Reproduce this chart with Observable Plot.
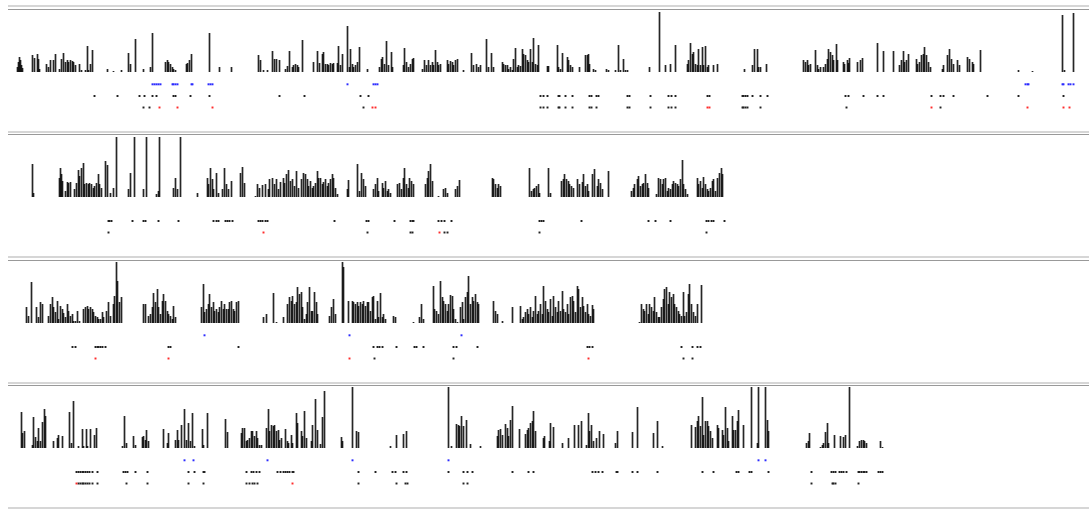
<!DOCTYPE html>
<html><head><meta charset="utf-8">
<script src="https://cdn.jsdelivr.net/npm/d3@7"></script>
<script src="https://cdn.jsdelivr.net/npm/@observablehq/plot@0.6"></script>
<style>
html,body{margin:0;padding:0;background:#fff;}
body{padding-top:5px;width:1089px;height:511px;overflow:hidden;}
.panel{margin-left:8px;width:1081px;border-top:2px solid #d6d6d6;}
.panel svg{display:block;margin-top:1.5px;border-top:1.5px solid #999;}
.endline{margin-left:8px;width:1081px;border-top:2px solid #d6d6d6;}
</style></head>
<body>
<div id="chart"></div>
<script>
// coverage bars per row: [position bin, coverage]
const bars1 = [[17,5],[18,10],[19,15],[20,12],[21,7],[22,4],[32,17],[34,14],[37,18],[38,13],[39,3],[46,8],[48,5],[50,12],[53,12],[55,18],[59,3],[61,13],[63,19],[65,10],[67,12],[68,10],[70,12],[72,11],[73,10],[75,7],[79,8],[81,2],[85,2],[87,26],[88,2],[90,8],[92,22],[107,3],[113,1],[121,2],[128,19],[130,8],[135,33],[143,3],[150,5],[152,39],[165,10],[167,12],[168,10],[170,8],[172,5],[173,3],[175,2],[186,8],[187,9],[189,12],[191,18],[209,39],[219,5],[231,5],[258,17],[260,12],[263,2],[267,2],[272,21],[274,13],[276,13],[279,12],[285,3],[287,6],[289,21],[292,5],[293,7],[295,8],[297,7],[298,5],[302,32],[313,10],[317,21],[319,9],[322,18],[323,20],[325,8],[327,8],[328,7],[330,9],[332,8],[333,9],[337,9],[338,26],[340,7],[342,18],[347,46],[349,5],[350,23],[352,8],[353,5],[355,7],[357,10],[359,25],[367,3],[379,5],[381,13],[382,15],[384,8],[386,31],[388,7],[391,20],[392,5],[403,7],[404,24],[406,10],[408,5],[410,8],[412,13],[413,14],[422,3],[424,12],[426,7],[428,12],[430,7],[432,10],[433,7],[435,22],[437,10],[438,7],[440,8],[447,12],[448,8],[450,11],[452,10],[453,7],[455,12],[457,13],[463,2],[471,19],[473,7],[476,8],[478,5],[480,7],[486,33],[488,5],[491,19],[493,5],[502,10],[503,8],[505,7],[507,7],[508,3],[510,5],[512,2],[513,13],[515,24],[517,5],[518,7],[520,6],[522,23],[523,18],[525,17],[527,12],[528,10],[530,23],[532,10],[533,34],[535,8],[537,7],[538,27],[547,6],[548,6],[557,27],[558,5],[560,3],[562,19],[567,15],[568,12],[570,7],[572,5],[579,5],[585,17],[587,17],[588,18],[589,8],[593,3],[595,2],[606,3],[608,2],[615,2],[618,27],[620,2],[623,13],[625,2],[627,2],[649,5],[659,60],[665,7],[670,8],[675,27],[687,8],[688,12],[690,29],[692,18],[693,20],[695,8],[697,7],[698,23],[700,7],[702,25],[703,7],[705,26],[707,5],[708,7],[713,7],[717,8],[744,3],[752,7],[754,23],[757,23],[758,5],[760,5],[766,8],[803,12],[805,10],[807,12],[808,7],[810,8],[815,22],[817,7],[818,3],[820,5],[823,5],[825,8],[827,13],[828,23],[830,20],[832,17],[833,12],[836,28],[837,12],[843,10],[844,8],[847,12],[848,9],[849,14],[857,10],[860,12],[862,14],[877,29],[883,21],[893,21],[899,7],[901,12],[903,21],[904,10],[906,12],[908,18],[916,13],[917,8],[919,10],[921,17],[923,18],[924,25],[926,17],[928,10],[930,5],[942,3],[943,7],[947,17],[949,23],[951,13],[953,8],[957,12],[959,7],[967,15],[969,13],[972,10],[973,8],[980,22],[1018,2],[1032,1],[1062,57],[1064,2],[1073,59]];
const bars2 = [[32,33],[33,4],[59,19],[60,29],[61,23],[62,16],[65,6],[67,15],[68,14],[70,15],[74,8],[76,14],[78,27],[79,21],[81,29],[83,34],[84,13],[86,14],[88,13],[89,14],[91,13],[93,9],[94,11],[96,14],[98,23],[99,13],[101,9],[105,36],[107,32],[110,4],[113,9],[116,60],[128,8],[130,24],[134,60],[143,8],[146,60],[156,3],[158,6],[159,60],[173,9],[175,19],[177,8],[180,60],[197,4],[207,19],[208,13],[210,29],[212,18],[213,8],[216,24],[218,4],[222,8],[224,29],[226,13],[228,8],[231,16],[240,24],[242,30],[244,14],[255,1],[257,13],[259,9],[262,12],[265,13],[268,8],[269,18],[272,19],[274,13],[276,18],[278,8],[280,15],[283,19],[284,14],[286,23],[288,27],[290,16],[292,18],[294,11],[296,26],[298,9],[301,18],[303,24],[305,23],[307,18],[308,11],[310,16],[312,9],[313,11],[315,14],[317,26],[318,19],[320,19],[322,13],[323,15],[325,18],[327,11],[328,14],[330,18],[332,23],[333,19],[335,9],[337,3],[347,8],[348,17],[357,33],[359,6],[361,24],[363,18],[365,11],[373,8],[375,13],[377,19],[378,6],[382,14],[383,9],[385,16],[387,6],[388,8],[390,4],[397,13],[399,14],[401,8],[403,19],[404,29],[406,13],[408,9],[409,19],[411,16],[413,13],[425,13],[427,19],[428,26],[430,33],[432,16],[438,1],[443,8],[445,9],[447,4],[455,8],[457,11],[459,17],[492,19],[493,18],[495,13],[497,9],[498,13],[500,11],[529,29],[531,6],[533,8],[534,9],[536,11],[538,13],[539,4],[548,29],[550,4],[561,16],[563,18],[564,23],[566,18],[568,16],[569,13],[571,11],[573,9],[577,18],[579,13],[582,15],[583,23],[585,11],[587,13],[588,6],[592,23],[594,28],[597,11],[598,18],[600,14],[602,8],[608,26],[631,6],[633,9],[634,13],[637,18],[638,21],[640,11],[642,13],[643,14],[645,23],[647,14],[648,9],[656,3],[658,19],[660,18],[662,13],[663,18],[665,19],[667,6],[668,9],[670,8],[672,13],[673,16],[675,14],[677,13],[678,11],[680,18],[682,37],[683,13],[685,8],[687,3],[697,19],[698,13],[700,16],[702,9],[703,20],[705,13],[707,8],[708,6],[710,9],[712,16],[713,18],[715,6],[717,19],[719,24],[721,29],[722,23]];
const bars3 = [[26,16],[28,7],[31,41],[36,16],[38,6],[40,21],[42,19],[48,7],[50,19],[52,26],[53,16],[55,11],[57,22],[58,4],[60,17],[62,14],[63,10],[65,6],[67,19],[68,12],[70,7],[72,9],[73,2],[75,2],[77,12],[79,2],[83,14],[85,16],[87,17],[88,14],[90,16],[92,14],[93,11],[95,7],[97,6],[98,4],[100,4],[102,11],[103,6],[106,12],[108,21],[110,7],[113,19],[114,27],[116,61],[117,42],[119,21],[121,26],[143,19],[145,19],[148,7],[150,9],[152,16],[153,30],[155,21],[157,34],[158,16],[160,9],[162,22],[163,29],[165,22],[167,12],[168,9],[170,7],[172,4],[173,17],[175,6],[201,16],[203,39],[204,11],[206,14],[208,19],[209,29],[211,16],[213,21],[214,12],[216,14],[218,11],[219,16],[221,22],[223,14],[224,19],[226,14],[228,14],[229,21],[231,22],[233,14],[234,12],[236,21],[238,22],[263,6],[266,9],[273,30],[276,1],[283,6],[287,19],[289,26],[291,22],[292,27],[294,19],[296,21],[297,36],[299,29],[301,31],[302,16],[304,4],[306,9],[307,21],[309,36],[311,12],[312,12],[314,31],[316,21],[317,9],[329,7],[331,16],[333,24],[335,9],[342,61],[343,56],[348,22],[352,22],[353,21],[355,19],[357,21],[358,17],[360,21],[362,19],[363,22],[365,17],[367,21],[368,21],[370,12],[372,26],[373,27],[375,4],[377,22],[378,6],[380,30],[382,6],[383,9],[385,4],[393,7],[395,6],[413,1],[419,6],[421,19],[423,4],[433,37],[434,14],[436,12],[438,9],[440,42],[442,26],[443,22],[445,19],[447,12],[448,19],[450,28],[452,27],[453,14],[455,4],[457,1],[460,16],[462,21],[463,4],[465,26],[467,31],[468,47],[470,19],[472,26],[473,22],[475,29],[477,21],[478,19],[493,22],[495,12],[497,9],[502,2],[512,16],[520,17],[522,4],[523,6],[525,11],[527,14],[528,9],[530,16],[532,6],[533,12],[535,27],[537,9],[538,12],[540,19],[542,9],[543,37],[545,22],[547,14],[548,11],[550,24],[552,7],[553,27],[555,16],[557,11],[558,22],[560,12],[562,32],[563,14],[565,11],[567,19],[568,9],[570,26],[572,27],[573,22],[575,11],[577,37],[578,34],[580,16],[582,26],[583,17],[585,11],[587,19],[588,9],[590,7],[592,18],[593,14],[639,1],[641,19],[643,14],[644,12],[646,19],[648,9],[649,19],[651,16],[653,12],[654,26],[656,11],[658,6],[659,6],[661,16],[663,24],[664,34],[666,36],[668,19],[669,31],[671,26],[673,29],[674,19],[676,16],[678,12],[679,9],[681,7],[683,31],[684,7],[686,11],[688,29],[689,39],[691,19],[693,11],[695,7],[697,19],[701,38]];
const bars4 = [[21,36],[22,15],[24,17],[32,3],[33,31],[35,11],[37,7],[38,20],[40,7],[42,26],[44,39],[45,32],[53,7],[57,10],[58,13],[62,12],[69,36],[71,5],[73,47],[78,2],[82,19],[83,2],[86,19],[87,2],[90,19],[94,13],[96,20],[122,2],[124,32],[126,5],[133,12],[135,3],[142,11],[143,12],[145,8],[146,18],[148,7],[163,19],[167,5],[168,15],[175,8],[177,18],[178,8],[181,23],[184,39],[186,8],[188,25],[190,7],[192,35],[194,2],[202,19],[203,3],[207,35],[225,29],[227,16],[241,15],[242,20],[244,20],[246,7],[247,8],[249,10],[251,17],[252,17],[254,12],[256,17],[257,10],[259,3],[261,3],[266,20],[268,39],[269,17],[271,23],[273,22],[274,23],[276,17],[278,18],[279,8],[281,10],[285,19],[287,7],[288,5],[291,13],[292,5],[296,35],[297,25],[301,17],[302,12],[304,37],[306,10],[311,7],[312,23],[315,49],[317,18],[320,4],[322,31],[324,57],[341,11],[342,7],[352,61],[356,17],[358,16],[390,2],[396,13],[403,14],[406,17],[448,61],[451,2],[456,24],[458,23],[459,22],[461,32],[463,22],[466,28],[470,4],[480,2],[497,12],[498,18],[500,19],[502,13],[505,24],[507,20],[508,12],[510,28],[512,42],[519,19],[525,14],[527,18],[528,20],[530,25],[532,27],[533,37],[535,17],[543,10],[544,12],[549,7],[550,25],[553,21],[562,5],[568,10],[574,23],[578,23],[581,27],[586,3],[588,35],[589,17],[591,23],[593,7],[596,10],[599,17],[603,14],[615,5],[617,17],[632,16],[637,41],[653,15],[657,27],[662,2],[691,23],[695,21],[697,27],[698,32],[700,22],[702,51],[703,13],[705,27],[707,27],[708,22],[710,17],[712,10],[717,23],[718,20],[722,18],[723,13],[725,41],[727,20],[728,7],[732,32],[733,18],[735,18],[737,27],[738,38],[743,23],[751,61],[757,5],[758,61],[765,61],[767,28],[768,17],[806,5],[808,7],[809,15],[820,1],[822,3],[823,5],[825,16],[827,25],[828,5],[834,13],[840,12],[843,11],[845,13],[849,61],[857,2],[859,7],[861,8],[863,8],[864,7],[866,5],[880,7],[882,1]];

// feature tracks (positions)
const blue1 = [152,154,156,158,160,172,173,175,177,191,192,208,210,212,347,373,375,377,1025,1027,1028,1062,1063,1068,1070,1073];
const black1 = [94,117,139,144,152,156,173,175,190,209,279,304,360,368,540,543,547,558,559,565,572,589,591,596,598,627,629,650,668,671,675,707,709,742,743,745,747,752,760,767,845,848,863,877,883,931,940,943,953,987,1018,1063];
const lowBlack1 = [143,149,363,540,543,547,558,559,565,572,589,591,596,627,629,650,668,671,675,742,743,745,747,760,846,940];
const lowRed1 = [159,177,212,372,375,707,709,931,1027,1063,1069];

const blue2 = [];
const black2 = [108,109,111,132,143,145,158,178,213,216,218,225,227,229,232,258,260,262,265,267,334,366,368,394,410,412,413,438,441,444,451,539,541,543,581,648,655,670,706,708,711,713,724];
const lowBlack2 = [108,367,410,412,444,447,539,706];
const lowRed2 = [263,439];

const blue3 = [204,349,461];
const black3 = [72,75,95,97,98,100,102,105,168,170,238,373,377,379,382,396,414,416,423,453,456,477,587,589,592,681,692,697,700];
const lowBlack3 = [374,453,683,692];
const lowRed3 = [95,168,349,588];

const blue4 = [184,193,267,352,448,758,765];
const black4 = [76,78,80,82,83,85,87,89,92,97,123,125,127,135,147,188,194,203,204,246,251,253,256,259,277,280,283,285,287,289,292,293,358,375,392,395,403,406,448,463,467,472,512,528,533,592,595,598,602,616,617,632,637,657,702,713,736,738,749,751,768,811,831,833,835,839,841,843,846,858,859,861,863,864,866,878,880,882];
const lowBlack4 = [78,80,82,83,85,87,89,92,97,126,147,188,203,246,249,252,254,257,358,396,405,407,463,467,811,832,833,835,858];
const lowRed4 = [76,292];

const rows = [
  {bars: bars1, blue: blue1, black: black1, lowBlack: lowBlack1, lowRed: lowRed1},
  {bars: bars2, blue: blue2, black: black2, lowBlack: lowBlack2, lowRed: lowRed2},
  {bars: bars3, blue: blue3, black: black3, lowBlack: lowBlack3, lowRed: lowRed3},
  {bars: bars4, blue: blue4, black: black4, lowBlack: lowBlack4, lowRed: lowRed4}
];

const TRACK_Y = [-11.8, -23.5, -35];
const chart = document.getElementById("chart");
rows.forEach((r, i) => {
  const div = document.createElement("div");
  div.className = "panel";
  const dot = (data, ty, color) => Plot.dot(data, {x: d => d, y: () => ty, r: 1.1, symbol: "square", fill: color, stroke: "none"});
  const svg = Plot.plot({
    width: 1081, height: 121, margin: 0,
    style: {background: "#fff", overflow: "visible"},
    x: {domain: [8, 1089], range: [0, 1081], axis: null},
    y: {domain: [-59, 60], range: [121, 2], axis: null},
    marks: [
      Plot.ruleX(r.bars, {x: d => d[0], y1: 0, y2: d => d[1], stroke: "#000", strokeWidth: 1.7, strokeOpacity: 0.85}),
      dot(r.blue, TRACK_Y[0], "#2b2bff"),
      dot(r.black, TRACK_Y[1], "#222"),
      dot(r.lowBlack, TRACK_Y[2], "#222"),
      dot(r.lowRed, TRACK_Y[2], "#ff2b2b")
    ]
  });
  div.appendChild(svg);
  chart.appendChild(div);
});
const end = document.createElement("div");
end.className = "endline";
chart.appendChild(end);
</script>
</body></html>
